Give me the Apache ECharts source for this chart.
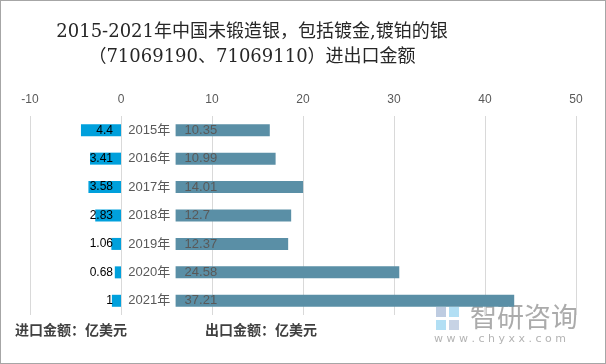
<!DOCTYPE html>
<html><head><meta charset="utf-8">
<script src="https://cdn.jsdelivr.net/npm/echarts@6/dist/echarts.min.js"></script>
<style>
html,body{margin:0;padding:0;background:#fff;}
#c{width:606px;height:364px;box-sizing:border-box;border:1px solid #a6a6a6;}
</style></head>
<body><div id="c"></div>
<script>
const years = ['2015年','2016年','2017年','2018年','2019年','2020年','2021年'];
const importVals = [4.4, 3.41, 3.58, 2.83, 1.06, 0.68, 1];
const exportVals = [10.35, 10.99, 14.01, 12.7, 12.37, 24.58, 37.21];
const labelGap = 6; // space reserved for year labels between the two bars
const xTicks = [-10, 0, 10, 20, 30, 40, 50];

const chart = echarts.init(document.getElementById('c'), null, {renderer:'canvas'});
const cat = years.slice().reverse();
const imp = importVals.slice().reverse();
const exp = exportVals.slice().reverse();

chart.setOption({
  animation:false,
  grid:{left:29, right:29, top:115, bottom:48, containLabel:false},
  xAxis:{
    type:'value', position:'top', min:xTicks[0], max:xTicks[xTicks.length-1], interval:10,
    axisLine:{show:false}, axisTick:{show:false},
    axisLabel:{color:'#595959', fontSize:12, fontFamily:'"Liberation Sans",sans-serif', margin:10},
    splitLine:{lineStyle:{color:'#d9d9d9', width:1}}
  },
  yAxis:{
    type:'category', data:cat, show:false
  },
  series:[
    {
      type:'bar', name:'进口', data:imp.map(v=>-v), barWidth:12, stack:'a',
      itemStyle:{color:'#00A0DC'},
      label:{show:true, position:'insideRight', distance:8, color:'#000', fontSize:12,
        fontFamily:'"Liberation Sans",sans-serif', formatter:p=>imp[p.dataIndex]}
    },
    {
      type:'bar', name:'gap', data:cat.map(()=>labelGap), barWidth:12, stack:'a',
      itemStyle:{color:'rgba(0,0,0,0)'},
      label:{show:true, position:'inside', offset:[1,0], color:'#595959', fontSize:13,
        fontFamily:'"Liberation Sans","Noto Sans CJK SC",sans-serif', formatter:p=>cat[p.dataIndex]},
      silent:true
    },
    {
      type:'bar', name:'出口', data:exp, barWidth:12, stack:'a',
      itemStyle:{color:'#5A8FA6'},
      label:{show:true, position:'insideLeft', distance:9, color:'#595959', fontSize:13,
        fontFamily:'"Liberation Sans",sans-serif'}
    }
  ],
  graphic:[
    {type:'text', x:251, y:19, style:{text:'2015-2021年中国未锻造银，包括镀金,镀铂的银\n（71069190、71069110）进出口金额',
      textAlign:'center', fill:'#262626', lineHeight:25, font:'18px "DejaVu Serif","Noto Sans CJK SC",serif'}},
    {type:'text', left:14, top:322, style:{text:'进口金额：亿美元', fill:'#404040', font:'bold 14px "Noto Sans CJK SC",sans-serif'}},
    {type:'text', left:204, top:322, style:{text:'出口金额：亿美元', fill:'#404040', font:'bold 14px "Noto Sans CJK SC",sans-serif'}},
    {type:'rect', left:435, top:306, shape:{width:10, height:10}, style:{fill:'rgba(70,110,170,0.35)'}},
    {type:'rect', left:448, top:306, shape:{width:10, height:10}, style:{fill:'rgba(0,150,220,0.3)'}},
    {type:'rect', left:435, top:319, shape:{width:10, height:10}, style:{fill:'rgba(0,150,220,0.3)'}},
    {type:'rect', left:448, top:319, shape:{width:10, height:10}, style:{fill:'rgba(70,110,170,0.3)'}},
    {type:'text', left:469, top:302, style:{text:'智研咨询', fill:'rgba(150,150,150,0.8)', font:'27px "Noto Sans CJK SC",sans-serif'}},
    {type:'text', left:433, top:333, style:{text:'w w w . c h y x x . c o m', fill:'rgba(160,160,160,0.8)', font:'11px "DejaVu Sans",sans-serif'}}
  ]
});
</script></body></html>
